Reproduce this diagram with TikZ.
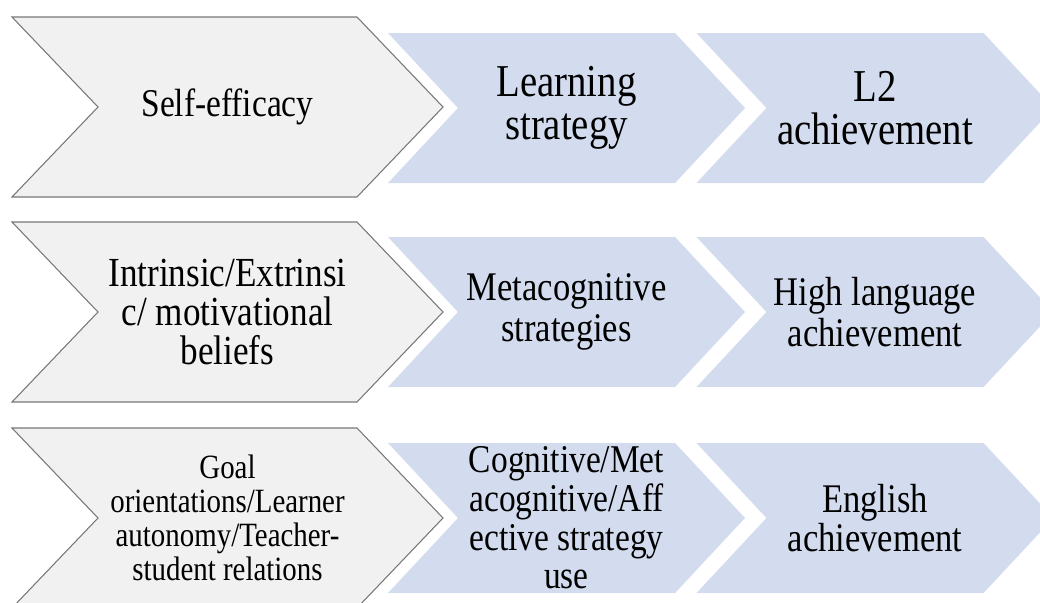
\documentclass[tikz,border=0pt]{standalone}
\usepackage{fontspec}
\setmainfont{Liberation Serif}[FakeStretch=0.85]
\usetikzlibrary{shapes.symbols}
\definecolor{cause}{HTML}{F1F1F1}
\definecolor{causeline}{HTML}{787878}
\definecolor{effect}{HTML}{D3DCEE}
\tikzset{
  chev/.style={signal,signal from=west,signal to=east,align=center,inner sep=0pt,outer sep=0pt},
  gchev/.style={chev,draw=causeline,line width=0.8pt,fill=cause,signal pointer angle=92.6,minimum width=323.25pt,minimum height=135pt},
  bchev/.style={chev,fill=effect,signal pointer angle=94,minimum width=267.75pt,minimum height=112.5pt},
}
\begin{document}
\begin{tikzpicture}[x=0.75pt,y=-0.75pt]
\useasboundingbox (0,0) rectangle (1040,603);

% row 1
\node[gchev,font=\fontsize{29.5}{30}\selectfont] (efficacy) at (227.5,107) {Self-efficacy};
\node[bchev,font=\fontsize{34.2}{32}\selectfont] (strategy) at (566.5,108) {Learning\\strategy};
\node[bchev,font=\fontsize{34.2}{32}\selectfont] (ltwo) at (875,108) {L2\\achievement};

% row 2
\node[gchev,font=\fontsize{31}{29.5}\selectfont] (motive) at (227.5,312) {Intrinsic/Extrinsi\\c/ motivational\\beliefs};
\node[bchev,font=\fontsize{30.5}{30.5}\selectfont] (meta) at (566.5,312) {Metacognitive\\strategies};
\node[bchev,font=\fontsize{30.5}{30.5}\selectfont] (high) at (875,312) {High language\\achievement};

% row 3
\node[gchev,font=\fontsize{25.5}{25.5}\selectfont] (goal) at (227.5,518) {Goal\\orientations/Learner\\autonomy/Teacher-\\student relations};
\node[bchev,font=\fontsize{29.5}{29}\selectfont] (use) at (566.5,518) {Cognitive/Met\\acognitive/Aff\\ective strategy\\use};
\node[bchev,font=\fontsize{30.5}{29.5}\selectfont] (english) at (875,518) {English\\achievement};
\end{tikzpicture}
\end{document}
